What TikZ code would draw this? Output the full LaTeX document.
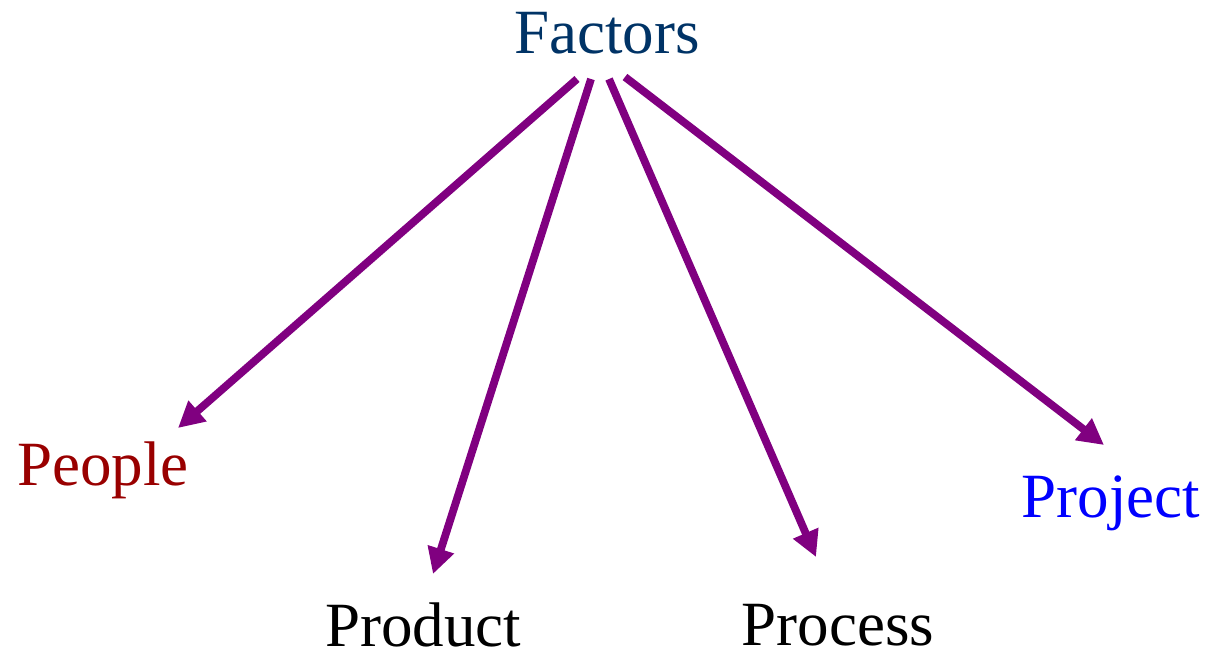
\documentclass[tikz,border=0pt]{standalone}
\usepackage{fontspec}
\setmainfont{Liberation Serif}
\usetikzlibrary{arrows.meta,positioning}
\definecolor{factorblue}{RGB}{0,51,102}
\definecolor{peoplered}{RGB}{153,0,0}
\definecolor{linkpurple}{RGB}{128,0,128}

\begin{document}
\begin{tikzpicture}[x=0.5pt, y=-0.5pt, font=\fontsize{31.5}{38}\selectfont]
      \tikzstyle{label}=[inner sep=0pt,anchor=base]
      \tikzstyle{link}=[draw=linkpurple,line width=3.9pt,-{Triangle[length=13pt,width=13pt]}]
      \useasboundingbox (0,0) rectangle (1209,655);
      \node[label,text=factorblue] (F) at (607,53) {Factors};
      \node[label,text=peoplered] (Pe) at (103,485) {People};
      \node[label] (Pd) at (423,646) {Product};
      \node[label] (Pc) at (838,645) {Process};
      \node[label,text=blue] (Pj) at (1111,517) {Project};
      % start and end points of the arrows
      \coordinate (F1) at (577,79);
      \coordinate (F2) at (591,79);
      \coordinate (F3) at (609,79);
      \coordinate (F4) at (625,77);
      \coordinate (Pe-in) at (178,428);
      \coordinate (Pd-in) at (433,574);
      \coordinate (Pc-in) at (816,557);
      \coordinate (Pj-in) at (1104,445);
      \draw[link] (F1) -- (Pe-in);
      \draw[link] (F2) -- (Pd-in);
      \draw[link] (F3) -- (Pc-in);
      \draw[link] (F4) -- (Pj-in);
\end{tikzpicture}
\end{document}
